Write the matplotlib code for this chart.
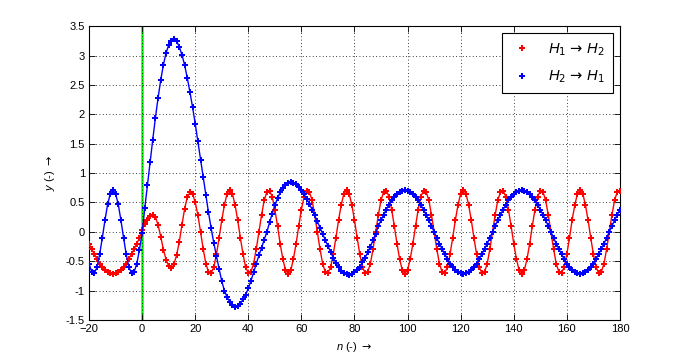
import matplotlib
matplotlib.use("Agg")
import matplotlib.pyplot as plt
from matplotlib.lines import Line2D

plt.rcParams['font.family'] = ['Liberation Sans', 'DejaVu Sans']
plt.rcParams['mathtext.fontset'] = 'custom'
plt.rcParams['mathtext.it'] = 'Liberation Sans:italic'
plt.rcParams['mathtext.rm'] = 'DejaVu Sans'

n_start, n_end = -20, 180

# one period (44 samples) of the steady-state patterns
slow_cycle = [0.00, 0.10, 0.20, 0.29, 0.38, 0.46, 0.54, 0.60, 0.65, 0.68, 0.70,
              0.71, 0.70, 0.68, 0.65, 0.60, 0.54, 0.46, 0.38, 0.29, 0.20, 0.10,
              0.00, -0.10, -0.20, -0.29, -0.38, -0.46, -0.54, -0.60, -0.65, -0.68,
              -0.70, -0.71, -0.70, -0.68, -0.65, -0.60, -0.54, -0.46, -0.38, -0.29,
              -0.20, -0.10]
fast_cycle = [0.00, 0.29, 0.54, 0.68, 0.70, 0.60, 0.38, 0.10, -0.20, -0.46, -0.65,
              -0.71, -0.65, -0.46, -0.20, 0.10, 0.38, 0.60, 0.70, 0.68, 0.54, 0.29,
              0.00, -0.29, -0.54, -0.68, -0.70, -0.60, -0.38, -0.10, 0.20, 0.46,
              0.65, 0.71, 0.65, 0.46, 0.20, -0.10, -0.38, -0.60, -0.70, -0.68,
              -0.54, -0.29]

# H1 -> H2 (red)
red_pre = [-0.20, -0.29, -0.38, -0.46, -0.54, -0.60, -0.65, -0.68, -0.70, -0.71,
           -0.70, -0.68, -0.65, -0.60, -0.54, -0.46, -0.38, -0.29, -0.20, -0.10]
red_transient = [0.04, 0.14, 0.21, 0.27, 0.29, 0.25, 0.12, -0.08, -0.30, -0.47,
                 -0.58, -0.62, -0.55, -0.39, -0.17, 0.12, 0.39, 0.59, 0.67, 0.65,
                 0.50]
red_after = fast_cycle[21:] + fast_cycle * 3 + fast_cycle[:5]

# H2 -> H1 (blue)
blue_pre = [-0.54, -0.68, -0.70, -0.60, -0.38, -0.10, 0.20, 0.47, 0.65, 0.71,
            0.65, 0.47, 0.20, -0.10, -0.38, -0.60, -0.70, -0.68, -0.54, -0.30]
blue_transient = [-0.02, 0.41, 0.80, 1.19, 1.57, 1.94, 2.28, 2.58, 2.84, 3.04,
                  3.18, 3.25, 3.28, 3.24, 3.15, 3.01, 2.84, 2.62, 2.38, 2.12,
                  1.84, 1.54, 1.23, 0.93, 0.63, 0.33, 0.06, -0.19, -0.41, -0.63,
                  -0.84, -1.00, -1.11, -1.19, -1.24, -1.27, -1.26, -1.22, -1.15,
                  -1.07, -0.96, -0.83, -0.69, -0.54, -0.40, -0.27, -0.13,
                  0.00, 0.16, 0.31, 0.45, 0.57, 0.67, 0.75, 0.80, 0.83, 0.84,
                  0.835, 0.81, 0.77, 0.71, 0.64, 0.56, 0.48, 0.38, 0.28, 0.18,
                  0.07, -0.03, -0.14, -0.24, -0.34, -0.44, -0.53, -0.60, -0.66,
                  -0.70, -0.72, -0.73, -0.72, -0.69, -0.65, -0.59, -0.52, -0.44,
                  -0.35, -0.25, -0.14, -0.03]
blue_after = slow_cycle[1:] + slow_cycle + slow_cycle[:5]

red = red_pre + red_transient + red_after
blue = blue_pre + blue_transient + blue_after
n = list(range(n_start, n_end + 1))

x_ticks = list(range(-20, 181, 20))
y_ticks = [-1.5, -1, -0.5, 0, 0.5, 1, 1.5, 2, 2.5, 3, 3.5]
y_tick_labels = ['-1.5', '-1', '-0.5', '0', '0.5', '1', '1.5', '2', '2.5', '3', '3.5']
labels = [r'$H_1\,\rightarrow\,H_2$', r'$H_2\,\rightarrow\,H_1$']

fig = plt.figure(figsize=(6.85, 3.58), dpi=100, facecolor='white')
ax = fig.add_axes([0.13, 0.106, 0.775, 0.821])

ax.axvline(0, color='#00ff00', lw=1.8, zorder=1)
ax.plot(n, red, color='red', lw=1.0, marker='P', ms=3.8, mew=0, zorder=3)
ax.plot(n, blue, color='blue', lw=1.0, marker='P', ms=3.8, mew=0, zorder=3)

ax.set_xlim(-20, 180)
ax.set_ylim(-1.5, 3.5)
ax.set_xticks(x_ticks)
ax.set_yticks(y_ticks)
ax.set_yticklabels(y_tick_labels)
ax.grid(True, color='black', linestyle=(0, (1, 3)), linewidth=0.6)
ax.tick_params(direction='in', length=4, width=0.6, top=True, right=True,
               labelsize=8, pad=3)
for s in ax.spines.values():
    s.set_linewidth(0.8)

ax.set_xlabel(r'$n$ (-) $\rightarrow$', fontsize=8, labelpad=4)
ax.set_ylabel(r'$y$ (-) $\rightarrow$', fontsize=8, labelpad=6)

handles = [Line2D([], [], color='red', marker='P', ms=4, mew=0, ls='none'),
           Line2D([], [], color='blue', marker='P', ms=4, mew=0, ls='none')]
leg = ax.legend(handles, labels, loc='upper right', fontsize=10.5,
                fancybox=False, framealpha=1, edgecolor='black',
                borderaxespad=0.5, handletextpad=1.0, borderpad=0.55,
                labelspacing=0.75, handlelength=1.6)
leg.get_frame().set_linewidth(0.8)

fig.savefig('out.png', dpi=100, facecolor='white')
